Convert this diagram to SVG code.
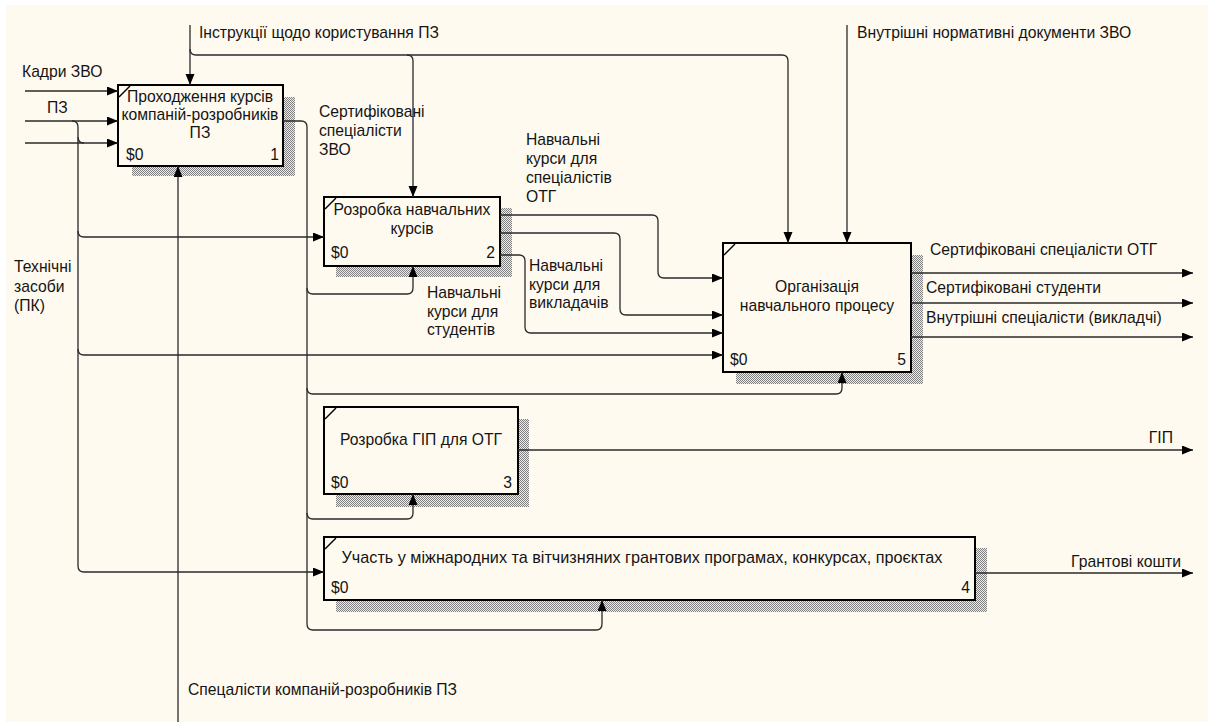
<svg xmlns="http://www.w3.org/2000/svg" width="1208" height="722" viewBox="0 0 1208 722">
  <style>
    text { font-family: "Liberation Sans", Arial, sans-serif; font-size: 15.7px; fill: #141414; }
    .mid { text-anchor: middle; }
    .end { text-anchor: end; }
    .wide { font-size: 16.2px; }
    .box { fill: #fffaf0; stroke: #000; stroke-width: 2; }
    .shadow { fill: url(#hatch); }
    .corner { stroke: #000; stroke-width: 1.5; fill: none; }
    .arrow { fill: none; stroke: #2a2a2a; stroke-width: 1.3; }
  </style>
  <defs>
    <pattern id="hatch" width="2" height="2" patternUnits="userSpaceOnUse">
      <rect width="2" height="2" fill="#ececec"/>
      <rect width="1" height="1" fill="#808080"/>
      <rect x="1" y="1" width="1" height="1" fill="#808080"/>
    </pattern>
    <marker id="head" markerUnits="userSpaceOnUse" markerWidth="12" markerHeight="10" refX="11" refY="4.5" orient="auto">
      <path d="M0,0 L11,4.5 L0,9 z" fill="#000"/>
    </marker>
  </defs>

  <rect width="1208" height="722" fill="#ffffff"/>
  <rect x="6" y="5" width="1202" height="717" fill="#fffaf0"/>

  <!-- activity boxes -->
  <g id="node-1">
    <rect class="shadow" x="132" y="97" width="163" height="79"/>
    <rect class="box" x="118" y="85" width="165" height="81"/>
    <path class="corner" d="M119,97 L130,86"/>
    <text class="mid" x="200" y="102">Проходження курсів</text>
    <text class="mid" x="200" y="120">компаній-розробників</text>
    <text class="mid" x="200" y="138">ПЗ</text>
    <text x="126" y="160">$0</text>
    <text class="end" x="279" y="160">1</text>
  </g>

  <g id="node-2">
    <rect class="shadow" x="336" y="208" width="176" height="69"/>
    <rect class="box" x="324" y="197" width="176" height="69"/>
    <path class="corner" d="M325,209 L336,198"/>
    <text class="mid" x="412" y="215">Розробка навчальних</text>
    <text class="mid" x="412" y="234">курсів</text>
    <text x="331" y="258">$0</text>
    <text class="end" x="495" y="258">2</text>
  </g>

  <g id="node-3">
    <rect class="shadow" x="336" y="419" width="193" height="88"/>
    <rect class="box" x="324" y="407" width="194" height="87"/>
    <path class="corner" d="M325,419 L336,408"/>
    <text class="mid" x="421" y="445">Розробка ГІП для ОТГ</text>
    <text x="331" y="488">$0</text>
    <text class="end" x="512" y="488">3</text>
  </g>

  <g id="node-4">
    <rect class="shadow" x="336" y="548" width="651" height="64"/>
    <rect class="box" x="324" y="537" width="651" height="63"/>
    <path class="corner" d="M325,549 L336,538"/>
    <text class="mid wide" x="642" y="563">Участь у міжнародних та вітчизняних грантових програмах, конкурсах, проєктах</text>
    <text x="331" y="593">$0</text>
    <text class="end" x="970" y="593">4</text>
  </g>

  <g id="node-5">
    <rect class="shadow" x="736" y="255" width="187" height="129"/>
    <rect class="box" x="723" y="243" width="188" height="129"/>
    <path class="corner" d="M724,255 L735,244"/>
    <text class="mid" x="817" y="292">Організація</text>
    <text class="mid" x="817" y="311">навчального процесу</text>
    <text x="730" y="365">$0</text>
    <text class="end" x="906" y="365">5</text>
  </g>

  <!-- arrows -->
  <g id="connectors">
    <!-- inputs from the left -->
    <path class="arrow" d="M25,91 H118" marker-end="url(#head)"/>
    <path class="arrow" d="M25,121 H118" marker-end="url(#head)"/>
    <path class="arrow" d="M25,143 H118" marker-end="url(#head)"/>
    <path class="arrow" d="M72,121 Q78,121 78,127 V566 Q78,572 84,572 H324" marker-end="url(#head)"/>
    <path class="arrow" d="M78,137 Q78,143 84,143"/>
    <path class="arrow" d="M78,231 Q78,237 84,237 H324" marker-end="url(#head)"/>
    <path class="arrow" d="M78,349 Q78,355 84,355 H723" marker-end="url(#head)"/>

    <!-- controls from the top -->
    <path class="arrow" d="M190,25 V85" marker-end="url(#head)"/>
    <path class="arrow" d="M190,49 Q190,55 196,55 H782 Q788,55 788,61 V243" marker-end="url(#head)"/>
    <path class="arrow" d="M407,55 Q413,55 413,61 V197" marker-end="url(#head)"/>
    <path class="arrow" d="M847,25 V243" marker-end="url(#head)"/>

    <!-- mechanism from the bottom -->
    <path class="arrow" d="M178,722 V166" marker-end="url(#head)"/>

    <!-- certified staff loop -->
    <path class="arrow" d="M283,121 H301 Q307,121 307,127 V624 Q307,630 313,630 H596 Q602,630 602,624 V600" marker-end="url(#head)"/>
    <path class="arrow" d="M307,288 Q307,294 313,294 H407 Q413,294 413,288 V266" marker-end="url(#head)"/>
    <path class="arrow" d="M307,388 Q307,394 313,394 H836 Q842,394 842,388 V372" marker-end="url(#head)"/>
    <path class="arrow" d="M307,513 Q307,519 313,519 H407 Q413,519 413,513 V494" marker-end="url(#head)"/>

    <!-- courses into node 5 -->
    <path class="arrow" d="M500,215 H652 Q658,215 658,221 V272 Q658,278 664,278 H723" marker-end="url(#head)"/>
    <path class="arrow" d="M500,233 H614 Q620,233 620,239 V309 Q620,315 626,315 H723" marker-end="url(#head)"/>
    <path class="arrow" d="M500,255 H519 Q525,255 525,261 V327 Q525,333 531,333 H723" marker-end="url(#head)"/>

    <!-- outputs -->
    <path class="arrow" d="M911,273 H1193" marker-end="url(#head)"/>
    <path class="arrow" d="M911,303 H1193" marker-end="url(#head)"/>
    <path class="arrow" d="M911,337 H1193" marker-end="url(#head)"/>
    <path class="arrow" d="M518,450 H1193" marker-end="url(#head)"/>
    <path class="arrow" d="M975,573 H1193" marker-end="url(#head)"/>
  </g>

  <!-- arrow labels -->
  <g id="labels">
    <text x="199" y="38">Інструкції щодо користування ПЗ</text>
    <text x="857" y="38">Внутрішні нормативні документи ЗВО</text>
    <text x="22" y="77">Кадри ЗВО</text>
    <text x="47" y="113">ПЗ</text>
    <text x="14" y="272">Технічні</text>
    <text x="14" y="292">засоби</text>
    <text x="14" y="311">(ПК)</text>
    <text x="319" y="117">Сертифіковані</text>
    <text x="319" y="136">спеціалісти</text>
    <text x="319" y="155">ЗВО</text>
    <text x="526" y="145">Навчальні</text>
    <text x="526" y="164">курси для</text>
    <text x="526" y="183">спеціалістів</text>
    <text x="526" y="202">ОТГ</text>
    <text x="529" y="271">Навчальні</text>
    <text x="529" y="290">курси для</text>
    <text x="529" y="308">викладачів</text>
    <text x="427" y="298">Навчальні</text>
    <text x="427" y="317">курси для</text>
    <text x="427" y="335">студентів</text>
    <text x="930" y="255">Сертифіковані спеціалісти ОТГ</text>
    <text x="926" y="293">Сертифіковані студенти</text>
    <text x="926" y="323">Внутрішні спеціалісти (викладчі)</text>
    <text class="end" x="1173" y="443">ГІП</text>
    <text class="end" x="1181" y="567">Грантові кошти</text>
    <text x="188" y="695">Спецалісти компаній-розробників ПЗ</text>
  </g>
</svg>
